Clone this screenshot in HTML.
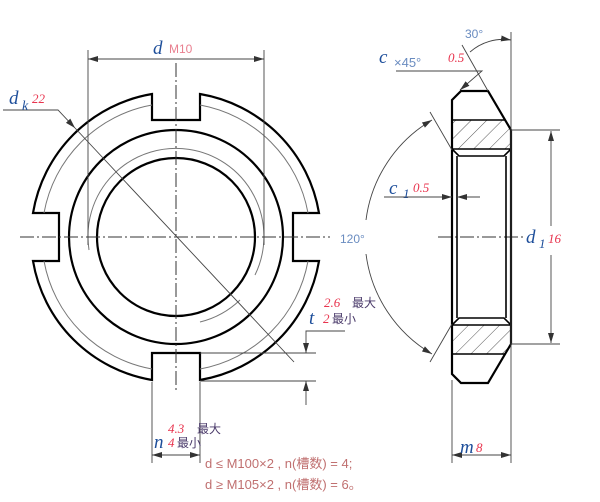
<!DOCTYPE html>
<html><head><meta charset="utf-8"><style>
body{margin:0;background:#fff;}
svg{display:block;}
text{font-family:"Liberation Serif","Noto Serif CJK SC",serif;}
.b{fill:#1d4e9a;font-style:italic;font-size:19px;}
.r{fill:#e8344e;font-style:italic;font-size:13px;}
.g{fill:#6a8cc0;font-family:"Liberation Sans",sans-serif;font-size:12px;}
.p{fill:#4a3a6a;font-family:"Liberation Sans","Noto Sans CJK SC",sans-serif;font-size:12px;}
.n{fill:#c07070;font-family:"Liberation Sans","Noto Sans CJK SC",sans-serif;font-size:13px;}
</style></head><body>
<svg width="600" height="502" viewBox="0 0 600 502" xmlns="http://www.w3.org/2000/svg">
<defs>
<marker id="a" viewBox="0 0 10 6" refX="10" refY="3" markerWidth="10" markerHeight="6" orient="auto-start-reverse" markerUnits="userSpaceOnUse"><path d="M0,0L10,3L0,6z" fill="#333"/></marker>
<pattern id="h" patternUnits="userSpaceOnUse" width="11" height="11" patternTransform="rotate(45)"><line x1="0" y1="0" x2="0" y2="11" stroke="#444" stroke-width="0.9"/></pattern>
</defs>
<g fill="none" stroke="#000">
<path stroke-width="2.2" d="M152,94 L152,120 L200,120 L200,94 A145,145 0 0 1 319,213 L293,213 L293,261 L319,261 A145,145 0 0 1 200,380 L200,353 L152,353 L152,380 A145,145 0 0 1 33,261 L59,261 L59,213 L33,213 A145,145 0 0 1 152,94 Z"/>
<circle cx="176" cy="237" r="107" stroke-width="2.2"/>
<circle cx="176" cy="237" r="79" stroke-width="2.2"/>
<g stroke="#777" stroke-width="1">
<path d="M200,105 A134,134 0 0 1 308,213"/>
<path d="M308,261 A134,134 0 0 1 200,369"/>
<path d="M152,369 A134,134 0 0 1 44,261"/>
<path d="M44,213 A134,134 0 0 1 152,105"/>
<path d="M89,250 A88,88 0 1 1 255,275"/>
<path d="M200,322 A88,88 0 0 0 240,300"/>
</g>
<g stroke="#333" stroke-width="1" stroke-dasharray="14,3,2,3">
<line x1="20" y1="237" x2="330" y2="237"/>
<line x1="176" y1="63" x2="176" y2="392"/>
<line x1="438" y1="237" x2="525" y2="237"/>
</g>
<g stroke="#444" stroke-width="0.9">
<line x1="88" y1="50" x2="88" y2="245"/>
<line x1="264" y1="50" x2="264" y2="245"/>
<line x1="88" y1="59" x2="264" y2="59" marker-start="url(#a)" marker-end="url(#a)"/>
<polyline points="3,110 58,110 75,128" marker-end="url(#a)"/>
<line x1="75" y1="128" x2="294" y2="362"/>
<line x1="200" y1="353" x2="316" y2="353"/>
<line x1="200" y1="381" x2="316" y2="381"/>
<polyline points="345,331 306,331 306,353" marker-end="url(#a)"/>
<line x1="306" y1="405" x2="306" y2="381" marker-end="url(#a)"/>
<line x1="152" y1="382" x2="152" y2="463"/>
<line x1="200" y1="382" x2="200" y2="463"/>
<line x1="152" y1="455" x2="200" y2="455" marker-start="url(#a)" marker-end="url(#a)"/>
</g>
<rect x="452" y="120" width="59" height="29" fill="url(#h)" stroke="none"/>
<rect x="452" y="325" width="59" height="29" fill="url(#h)" stroke="none"/>
<path stroke-width="2.2" d="M452,100 L461,91 L488,91 L511,130 L511,344 L488,383 L461,383 L452,374 Z"/>
<g stroke-width="1.6">
<line x1="452" y1="120" x2="505" y2="120"/>
<line x1="452" y1="354" x2="505" y2="354"/>
<line x1="452" y1="149" x2="511" y2="149"/>
<line x1="452" y1="325" x2="511" y2="325"/>
<polyline points="452,149 459,156 504,156 511,149"/>
<polyline points="452,325 459,318 504,318 511,325"/>
<line x1="457" y1="156" x2="457" y2="318"/>
<line x1="506" y1="156" x2="506" y2="318"/>
</g>
<g stroke="#444" stroke-width="0.9">
<line x1="511" y1="32" x2="511" y2="463"/>
<line x1="452" y1="380" x2="452" y2="463"/>
<line x1="452" y1="455" x2="511" y2="455" marker-start="url(#a)" marker-end="url(#a)"/>
<line x1="462" y1="45" x2="488" y2="91"/>
<path d="M470,52 A50,50 0 0 1 511,40" marker-end="url(#a)"/>
<polyline points="396,71 482,71 460,90" marker-end="url(#a)"/>
<line x1="511" y1="130" x2="560" y2="130"/>
<line x1="511" y1="344" x2="560" y2="344"/>
<line x1="551" y1="226" x2="551" y2="131" marker-end="url(#a)"/>
<line x1="551" y1="255" x2="551" y2="343" marker-end="url(#a)"/>
<line x1="384" y1="197" x2="452" y2="197" marker-end="url(#a)"/>
<line x1="480" y1="197" x2="457" y2="197" marker-end="url(#a)"/>
<line x1="430" y1="112" x2="452" y2="150"/>
<line x1="430" y1="362" x2="452" y2="324"/>
<path d="M366,220 A136,136 0 0 1 432,120" marker-end="url(#a)"/>
<path d="M366,254 A136,136 0 0 0 432,354" marker-end="url(#a)"/>
</g>
</g>
<text x="153" y="54" class="b">d</text><text x="169" y="53" class="g" style="fill:#e98090">M10</text>
<text x="9" y="104" class="b">d</text><text x="22" y="110" class="b" style="font-size:14px">k</text><text x="32" y="103" class="r">22</text>
<text x="324" y="307" class="r">2.6</text><text x="352" y="307" class="p">最大</text>
<text x="309" y="324" class="b">t</text><text x="323" y="323" class="r">2</text><text x="332" y="323" class="p">最小</text>
<text x="168" y="433" class="r">4.3</text><text x="197" y="433" class="p">最大</text>
<text x="154" y="448" class="b">n</text><text x="168" y="447" class="r">4</text><text x="177" y="447" class="p">最小</text>
<text x="205" y="468" class="n">d ≤ M100×2 , n(槽数) = 4;</text>
<text x="205" y="489" class="n">d ≥ M105×2 , n(槽数) = 6。</text>
<text x="465" y="38" class="g">30°</text>
<text x="379" y="63" class="b">c</text><text x="394" y="67" class="g" style="font-size:13px">×45°</text><text x="448" y="62" class="r">0.5</text>
<text x="389" y="194" class="b">c</text><text x="403" y="198" class="b" style="font-size:13px">1</text><text x="413" y="192" class="r">0.5</text>
<text x="340" y="243" class="g">120°</text>
<text x="526" y="243" class="b">d</text><text x="539" y="248" class="b" style="font-size:13px">1</text><text x="548" y="243" class="r">16</text>
<text x="460" y="453" class="b">m</text><text x="476" y="452" class="r">8</text>
</svg>
</body></html>
